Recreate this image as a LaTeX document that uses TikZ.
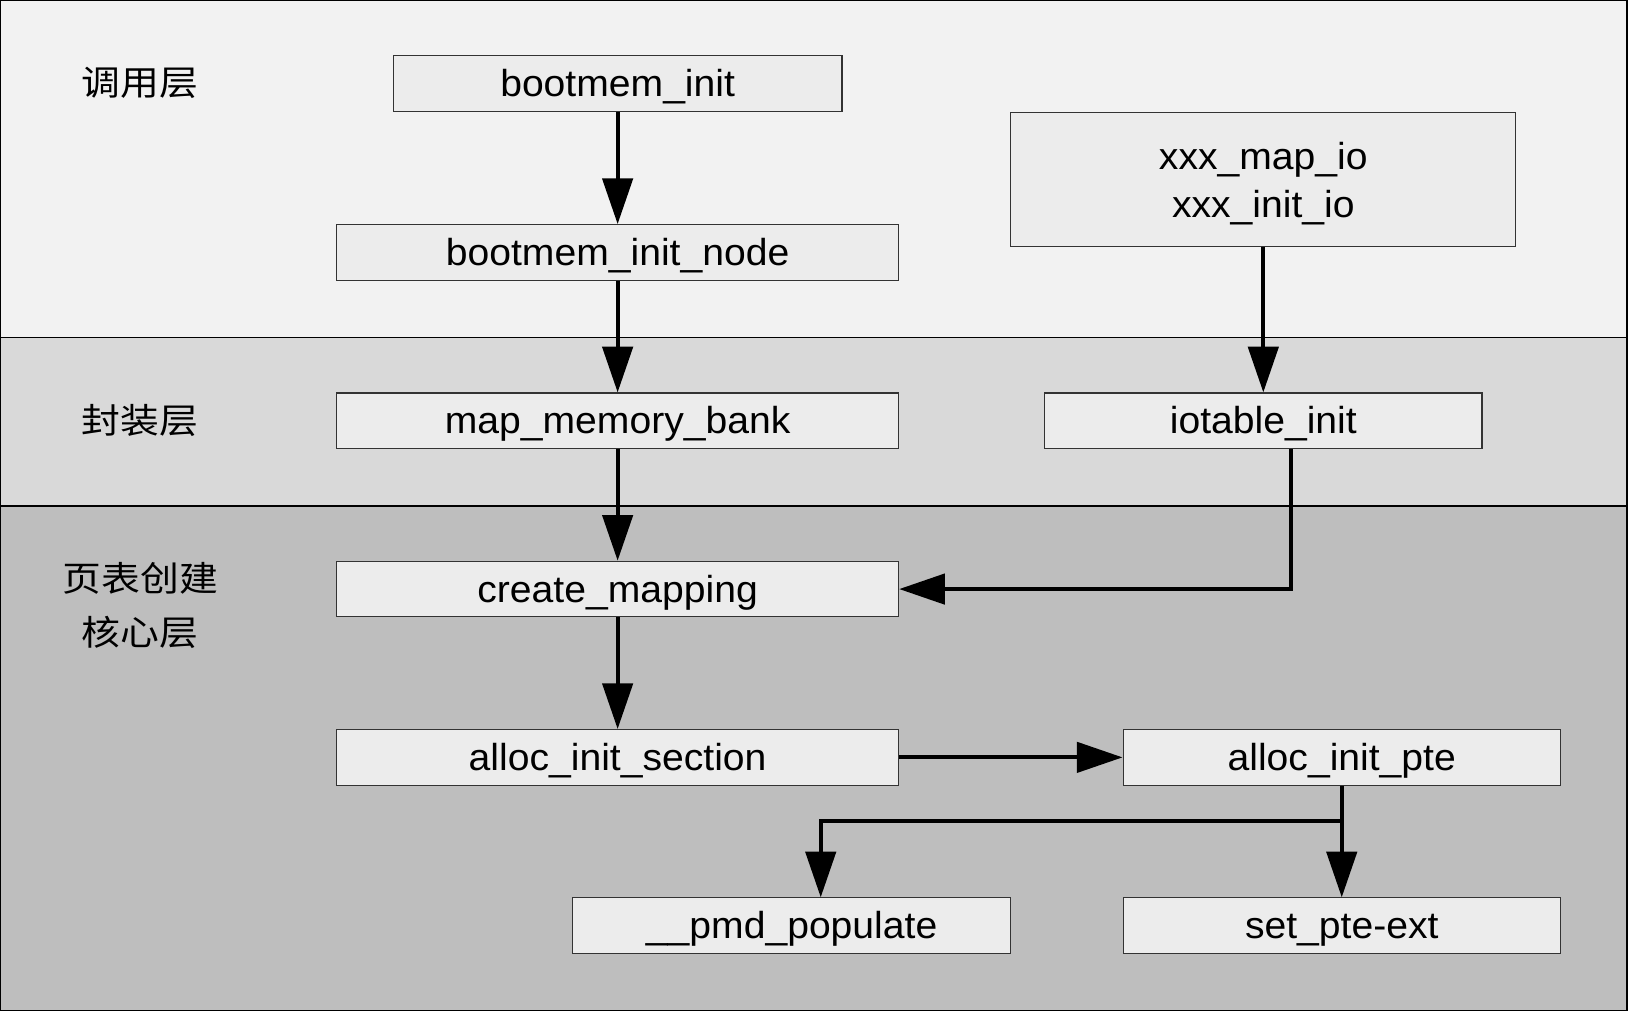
\documentclass[tikz,border=0pt]{standalone}
\usepackage{fontspec}
\setmainfont[FakeStretch=1.04]{Liberation Sans}
\newfontfamily\cjk[FakeStretch=1.12]{Noto Sans CJK SC}
\usetikzlibrary{arrows.meta}
\definecolor{bandA}{HTML}{F2F2F2}
\definecolor{bandB}{HTML}{D9D9D9}
\definecolor{bandC}{HTML}{BEBEBE}
\definecolor{boxfill}{HTML}{ECECEC}
\definecolor{boxline}{HTML}{333333}
\begin{document}
\begin{tikzpicture}[x=0.02cm,y=-0.02cm,
  fn/.style={draw=boxline,line width=0.6pt,fill=boxfill,minimum height=1.07cm,inner sep=0pt,
     font=\fontsize{20.6}{26.6}\selectfont,align=center},
  one/.style={text height=0.6cm,text depth=0.1cm},
  layer/.style={font=\cjk\fontsize{19}{26}\selectfont,align=center,inner sep=0pt},
  flow/.style={line width=2.3pt,-{Triangle[length=0.88cm,width=0.58cm]}},
  band/.style={draw=black,line width=0.7pt}]
\useasboundingbox (0,0) rectangle (1568,974);
% bands
\path[band,fill=bandA] (0.5,0.5) rectangle (1566,325);
\path[band,fill=bandB] (0.5,325) rectangle (1566,487);
\path[band,fill=bandC] (0.5,487) rectangle (1566,972.5);
% layer labels
\node[layer] (l1) at (135,80) {调用层};
\node[layer] (l2) at (135,405) {封装层};
\node[layer] (l3) at (135,583) {页表创建\\[0.12cm]核心层};
% boxes
\node[fn,one,minimum width=8.64cm] (bi) at (594.5,80.5) {bootmem\_init};
\node[fn,one,minimum width=10.82cm] (bin) at (594.5,243) {bootmem\_init\_node};
\node[fn,minimum width=9.72cm,minimum height=2.58cm] (xio) at (1216,172.5) {\rule{0pt}{0.7cm}xxx\_map\_io\\xxx\_init\_io};
\node[fn,one,minimum width=10.82cm] (mmb) at (594.5,405) {map\_memory\_bank};
\node[fn,one,minimum width=8.42cm] (iot) at (1216,405) {iotable\_init};
\node[fn,one,minimum width=10.82cm] (cm) at (594.5,567) {create\_mapping};
\node[fn,one,minimum width=10.82cm] (ais) at (594.5,729) {alloc\_init\_section};
\node[fn,one,minimum width=8.42cm] (aip) at (1291.5,729) {alloc\_init\_pte};
\node[fn,one,minimum width=8.44cm] (pmd) at (762,891) {\_\_pmd\_populate};
\node[fn,one,minimum width=8.42cm] (spe) at (1291.5,891) {set\_pte-ext};
\coordinate (j) at (1291.5,790);
% connectors
\draw[flow] (bi.south) -- (bin.north);
\draw[flow] (bin.south) -- (mmb.north);
\draw[flow] (mmb.south) -- (cm.north);
\draw[flow] (cm.south) -- (ais.north);
\draw[flow] (xio.south) -- (iot.north);
\draw[flow] ([xshift=0.54cm]iot.south) |- (cm.east);
\draw[flow] (ais.east) -- (aip.west);
\draw[flow] (aip.south) -- (spe.north);
\draw[flow] (j) -| ([xshift=0.56cm]pmd.north);
\end{tikzpicture}
\end{document}
